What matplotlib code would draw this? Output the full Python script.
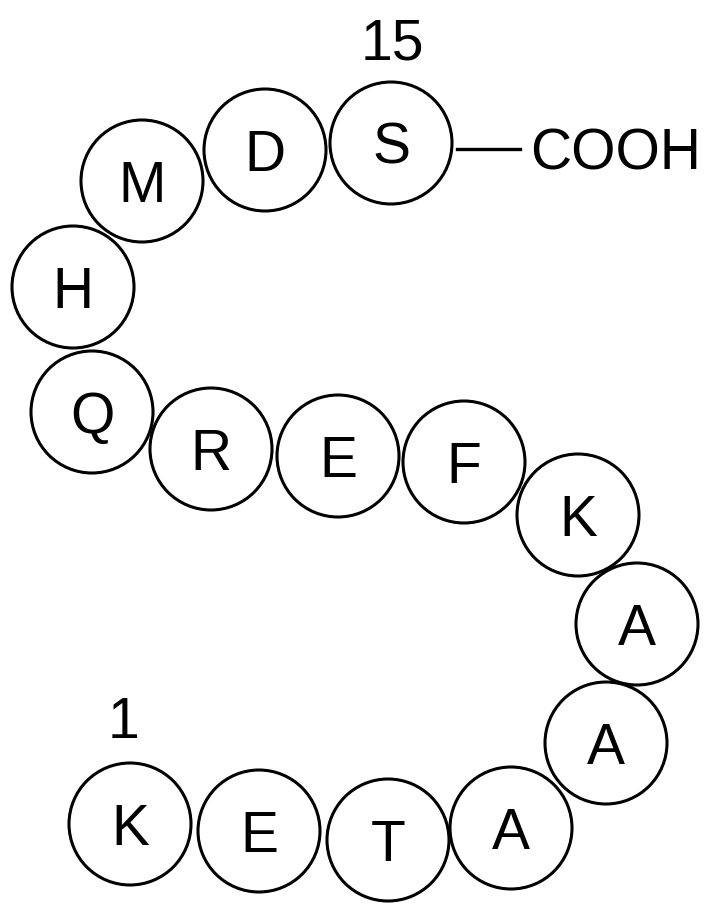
import matplotlib
matplotlib.use("Agg")
import matplotlib.pyplot as plt
from matplotlib.patches import Circle

# peptide sequence, residue 1 .. 15
residues = ["K", "E", "T", "A", "A", "A", "K", "F", "E", "R", "Q", "H", "M", "D", "S"]
# circle centres in pixel coordinates (y going down)
cx = [130, 259, 388, 511, 606, 637, 578, 464, 338, 211, 92, 73, 142, 265, 391]
cy = [824, 831, 840, 828, 743, 624, 515, 462, 456, 449, 412, 287, 181, 150, 143]
radius = 61
half_cap = 21  # half the capital height in pixels, to centre letters on the circles

fig = plt.figure(figsize=(7.06, 9.14), dpi=100)
ax = fig.add_axes([0, 0, 1, 1])
ax.set_xlim(0, 706)
ax.set_ylim(914, 0)
ax.set_aspect("equal")
ax.axis("off")

font = dict(family="Liberation Sans", fontsize=41, ha="center", va="baseline")

for res, x, y in zip(residues, cx, cy):
    ax.add_patch(Circle((x, y), radius, facecolor="white", edgecolor="black", lw=2.2))
    ax.text(x, y + half_cap, res, **font)

# numbering of first and last residue
ax.text(123, 738, "1", **font)
ax.text(392, 60, "15", **font)

# C-terminus
ax.plot([457, 520], [149, 149], color="black", lw=2.4)
ax.text(530, 170, "COOH", family="Liberation Sans", fontsize=41, ha="left", va="baseline")

fig.savefig("out.png", dpi=100)
